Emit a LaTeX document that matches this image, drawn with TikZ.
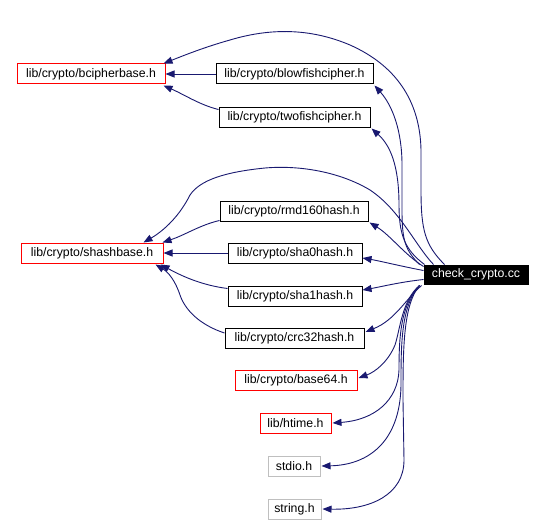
\documentclass[tikz,border=0pt]{standalone}
\usepackage{fontspec}
\setmainfont{Liberation Sans}
\usetikzlibrary{arrows.meta,calc}
\definecolor{edgeblue}{RGB}{25,25,112}
\definecolor{boxgray}{RGB}{191,191,191}
\begin{document}
\begin{tikzpicture}[x=1pt,y=-1pt,
  box/.style={draw=black,line width=1pt,inner sep=0pt,minimum height=20pt,
    font=\fontsize{12.3}{14}\selectfont,anchor=center},
  redbox/.style={box,draw=red},
  graybox/.style={box,draw=boxgray},
  rootbox/.style={box,fill=black,text=white},
  edge/.style={draw=edgeblue,line width=0.9pt,
    -{Triangle[length=9pt,width=7pt]}}]
\useasboundingbox (0,0) rectangle (545,524);
\fill[white] (0,0) rectangle (545,524);

\node[redbox,minimum width=148pt] (bc) at (91,74) {lib/crypto/bcipherbase.h};
\node[box,minimum width=157pt] (bf) at (294.5,74) {lib/crypto/blowfishcipher.h};
\node[box,minimum width=151pt] (tf) at (294.5,117) {lib/crypto/twofishcipher.h};
\node[box,minimum width=148pt] (rm) at (294,211) {lib/crypto/rmd160hash.h};
\node[redbox,minimum width=142pt] (sh) at (92,253) {lib/crypto/shashbase.h};
\node[box,minimum width=134pt] (s0) at (295,253) {lib/crypto/sha0hash.h};
\node[box,minimum width=134pt] (s1) at (295,296) {lib/crypto/sha1hash.h};
\node[box,minimum width=139pt] (cr) at (294.5,338) {lib/crypto/crc32hash.h};
\node[rootbox,minimum width=104pt,minimum height=19pt] (cc) at (476,274.5) {check\_crypto.cc};
\node[redbox,minimum width=122pt] (b64) at (296,380) {lib/crypto/base64.h};
\node[redbox,minimum width=71pt] (ht) at (295.5,423) {lib/htime.h};
\node[graybox,minimum width=52pt] (sd) at (294,466) {stdio.h};
\node[graybox,minimum width=53pt] (st) at (294.5,509) {string.h};

% edges from check_crypto.cc
\draw[edge] ($(cc.north west)+(21,0)$) .. controls (425,245) and (421,230) .. (421,190)
  -- (421,150) .. controls (420,100) and (395,65) .. (350,45)
  .. controls (310,28) and (270,28) .. (230,40)
  .. controls (205,47) and (185,55) .. ($(bc.north east)+(-2,0)$);
\draw[edge] ($(cc.north west)+(-4,0)$) .. controls (405,250) and (402,240) .. (402,210)
  -- (402,165) .. controls (402,130) and (392,105) .. ($(bf.south east)+(1,1)$);
\draw[edge] ($(cc.north west)+(1,0)$) .. controls (405,250) and (399,235) .. (399,205)
  .. controls (399,165) and (390,145) .. ($(tf.south east)+(1,1)$);
\draw[edge] ($(cc.north west)+(0,2)$) .. controls (405,255) and (390,235) .. ($(rm.south east)+(1,1)$);
\draw[edge] ($(cc.north west)+(10,0)$) .. controls (415,245) and (400,210) .. (370,190)
  .. controls (340,172) and (300,165) .. (265,168)
  .. controls (225,172) and (200,180) .. (190,195)
  .. controls (180,215) and (165,230) .. ($(sh.north east)+(-20,0)$);
\draw[edge] ($(cc.west)+(0,-4)$) .. controls (400,266) and (380,261) .. ($(s0.east)+(0,5)$);
\draw[edge] ($(cc.west)+(0,5)$) .. controls (400,282) and (380,287) .. ($(s1.east)+(0,-6)$);
\draw[edge] ($(cc.south west)+(-2,1)$) .. controls (405,300) and (395,320) .. ($(cr.east)+(1,-6)$);
\draw[edge] ($(cc.south west)+(-4,1)$) .. controls (402,300) and (400,330) .. (395,345)
  .. controls (388,362) and (375,372) .. ($(b64.east)+(1,-2)$);
\draw[edge] ($(cc.south west)+(-4,1)$) .. controls (400,305) and (399,340) .. (399,370)
  .. controls (398,400) and (375,420) .. ($(ht.east)+(1,0)$);
\draw[edge] ($(cc.south west)+(-4,1)$) .. controls (402,305) and (401,340) .. (401,380)
  .. controls (402,440) and (370,465) .. ($(sd.east)+(1,0)$);
\draw[edge] ($(cc.south west)+(-4,1)$) .. controls (403,305) and (403,350) .. (403,400)
  -- (404,460) .. controls (404,495) and (370,510) .. ($(st.east)+(1,0)$);

% edges into bcipherbase.h
\draw[edge] (bf.west) -- (bc.east);
\draw[edge] ($(tf.north west)+(0,3)$) .. controls (200,105) and (185,95) .. ($(bc.south east)+(-2,1)$);

% edges into shashbase.h
\draw[edge] ($(rm.south west)+(0,-1)$) .. controls (200,225) and (185,235) .. ($(sh.north east)+(-1,0)$);
\draw[edge] (s0.west) -- (sh.east);
\draw[edge] ($(s1.north west)+(0,3)$) .. controls (200,285) and (180,275) .. ($(sh.south east)+(-3,1)$);
\draw[edge] ($(cr.west)+(0,-5)$) .. controls (200,325) and (185,310) .. (180,295)
  .. controls (175,280) and (168,272) .. ($(sh.south east)+(-8,1)$);
\end{tikzpicture}
\end{document}
